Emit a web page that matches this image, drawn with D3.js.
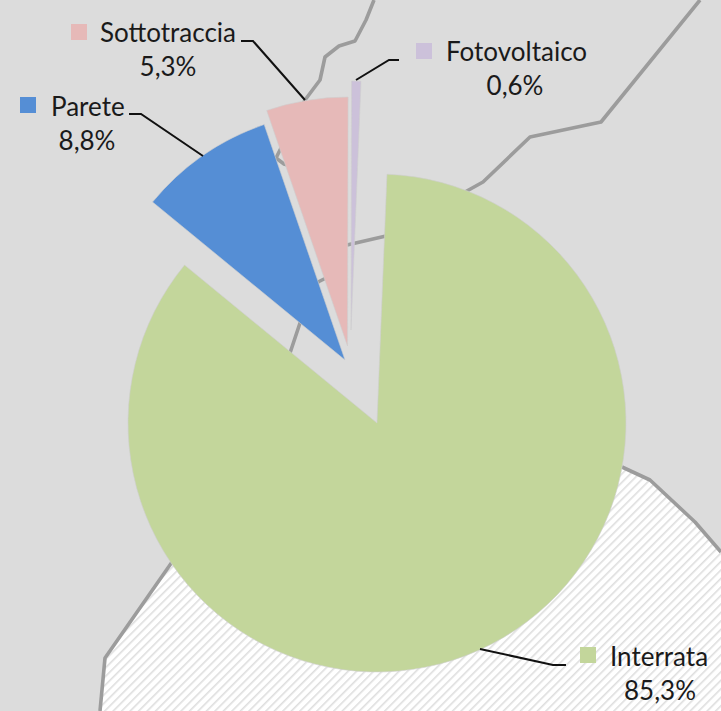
<!DOCTYPE html>
<html><head><meta charset="utf-8">
<script src="https://cdn.jsdelivr.net/npm/d3@7"></script>
<style>html,body{margin:0;padding:0;background:#dcdcdc}svg{display:block}</style>
</head><body><svg id="c" width="721" height="711"></svg>
<script>
const categories = ["Interrata", "Parete", "Sottotraccia", "Fotovoltaico"];
const values = [85.3, 8.8, 5.3, 0.6];
const valueLabels = ["85,3%", "8,8%", "5,3%", "0,6%"];
const colors = ["#c3d69b", "#558ed5", "#e6b9b8", "#ccc1da"];
// exploded slice apex positions
const apexX = [377, 345, 347.5, 351];
const apexY = [423, 360, 346, 330];
const radius = 249, startDeg = 2.3;
// label layout: name left / centre, baselines, swatch, leader
const nameX = [610, 51, 100, 446];
const nameY = [666, 116, 42, 61];
const pctX = [660, 87, 168, 515];
const pctY = [700, 150, 76, 95];
const swX = [580, 20, 71, 416];
const swY = [647, 97, 24, 43];
const leaders = [
  [[480,649],[553,665],[566,665]],
  [[203,156],[141,114],[129,114]],
  [[305,100],[253,41],[241,41]],
  [[356,80],[389,60],[399,60]]
];
// background map
const hatchArea = [[622,467],[650,480],[695,522],[721,552],[721,711],[100,711],[105,658],[170,562],[376,422]];
const borders = [
  [[374,0],[366,20],[355,41],[339,46],[325,57],[320,80],[305,100],[276,158],[284,164],[305,170],[338,272],[318,282],[300,323],[290,353]],
  [[700,0],[601,122],[530,137],[483,182],[386,236],[347,245]],
  [[622,467],[650,480],[695,522],[721,552]],
  [[172,562],[105,658],[100,711]]
];
const svg = d3.select("#c");
const defs = svg.append("defs");
const pat = defs.append("pattern").attr("id","hatch").attr("width",6).attr("height",6)
  .attr("patternUnits","userSpaceOnUse").attr("patternTransform","rotate(45)");
pat.append("rect").attr("width",6).attr("height",6).attr("fill","#fff");
pat.append("rect").attr("width",1.6).attr("height",6).attr("fill","#dedede");

svg.append("rect").attr("width",721).attr("height",711).attr("fill","#dcdcdc");
const line = d3.line();
svg.append("path").attr("d", line(hatchArea)+"Z").attr("fill","url(#hatch)");
svg.selectAll(".b").data(borders).join("path").attr("d",line).attr("fill","none")
  .attr("stroke","#9c9c9c").attr("stroke-width",3.6).attr("stroke-linejoin","round");

const rad = d => d*Math.PI/180;
const pie = d3.pie().sort(null).startAngle(rad(startDeg)).endAngle(rad(startDeg+360));
const arc = d3.arc().innerRadius(0).outerRadius(radius);
svg.selectAll(".s").data(pie(values)).join("path")
  .attr("transform",(d,i)=>`translate(${apexX[i]},${apexY[i]})`)
  .attr("d",arc).attr("fill",(d,i)=>colors[i])
  .attr("stroke","#cfcfcf").attr("stroke-width",0.6);

svg.selectAll(".l").data(leaders).join("path").attr("d",line).attr("fill","none")
  .attr("stroke","#111").attr("stroke-width",2);
svg.selectAll(".sw").data(categories).join("rect")
  .attr("x",(d,i)=>swX[i]).attr("y",(d,i)=>swY[i]).attr("width",16).attr("height",16)
  .attr("fill",(d,i)=>colors[i]);
const font = "Lato, sans-serif";
svg.selectAll(".n").data(categories).join("text")
  .attr("x",(d,i)=>nameX[i]).attr("y",(d,i)=>nameY[i]).text(d=>d)
  .attr("font-family",font).attr("font-size",26).attr("fill","#1a1a1a");
svg.selectAll(".p").data(valueLabels).join("text")
  .attr("x",(d,i)=>pctX[i]).attr("y",(d,i)=>pctY[i]).text(d=>d).attr("text-anchor","middle")
  .attr("font-family",font).attr("font-size",26).attr("fill","#1a1a1a");
</script></body></html>
